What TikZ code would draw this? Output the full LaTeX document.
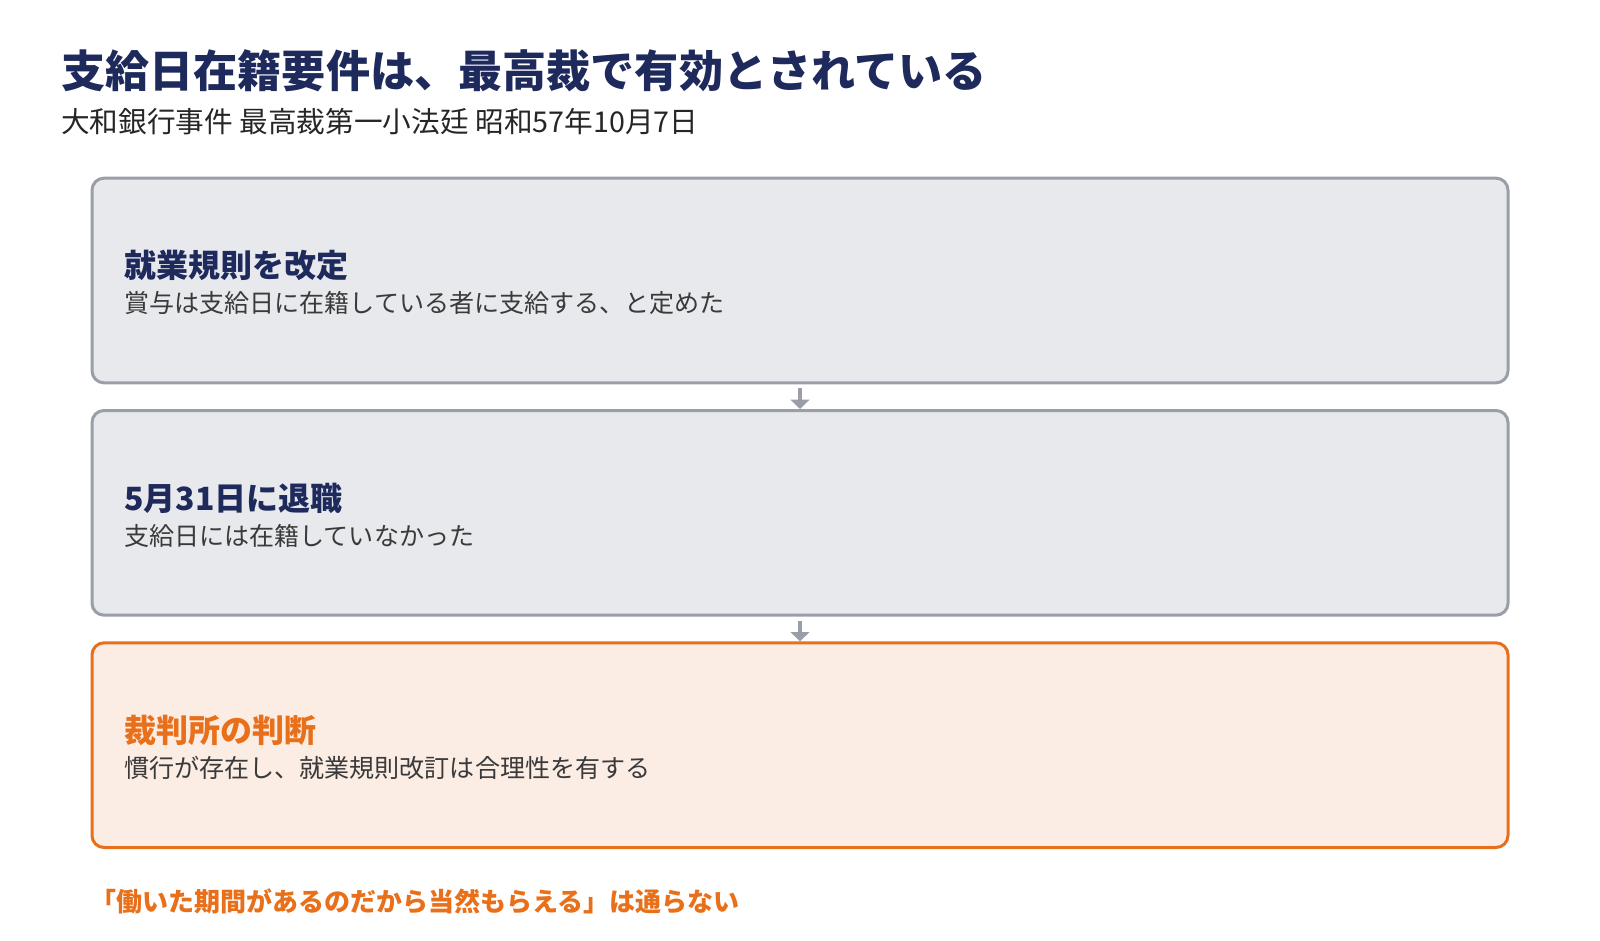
\documentclass[tikz,border=0pt]{standalone}
\usepackage{fontspec}
\setmainfont{Noto Sans CJK JP}
\usetikzlibrary{positioning,arrows.meta}
\definecolor{navy}{HTML}{1F2A5C}
\definecolor{boxgray}{HTML}{E8E9ED}
\definecolor{linegray}{HTML}{9A9EA9}
\definecolor{judgeorange}{HTML}{E8701A}
\definecolor{judgefill}{HTML}{FBECE4}
\definecolor{bodytext}{HTML}{3A3A3A}
\tikzset{
  stepbox/.style={draw=linegray, fill=boxgray, line width=2.25pt,
    rounded corners=9pt, minimum width=1062pt, minimum height=153.5pt},
  judgebox/.style={stepbox, draw=judgeorange, fill=judgefill},
  headtxt/.style={anchor=west, inner sep=0pt, text=navy,
    font=\fontsize{24pt}{28pt}\selectfont\bfseries},
  bodytxt/.style={anchor=west, inner sep=0pt, text=bodytext,
    font=\fontsize{18.8pt}{22pt}\selectfont},
  flow/.style={draw=linegray, line width=3pt,
    -{Triangle[width=14pt, length=7pt]}, shorten <=3pt}
}

\begin{document}
\begin{tikzpicture}[x=0.75pt,y=-0.75pt]
\useasboundingbox (0,0) rectangle (1600,940);

% Title and source
\node[anchor=west, inner sep=0pt, text=navy,
      font=\fontsize{33.1pt}{38pt}\selectfont\bfseries] (title) at (61,70.5)
      {支給日在籍要件は、最高裁で有効とされている};
\node[anchor=west, inner sep=0pt, text=black!85,
      font=\fontsize{21.5pt}{25pt}\selectfont] (source) at (61,121.5)
      {大和銀行事件 最高裁第一小法廷 昭和57年10月7日};

% The three steps
\node[stepbox]  (rule)   at (800,280.5) {};
\node[stepbox, below=18.5pt of rule]  (retire) {};
\node[judgebox, below=18.5pt of retire] (judge) {};

\node[headtxt] (ruleH) at ([xshift=25pt, yshift=11pt]rule.west) {就業規則を改定};
\node[bodytxt] (ruleB) at ([xshift=25pt, yshift=-17pt]rule.west)
      {賞与は支給日に在籍している者に支給する、と定めた};

\node[headtxt] (retireH) at ([xshift=25pt, yshift=11pt]retire.west) {5月31日に退職};
\node[bodytxt] (retireB) at ([xshift=25pt, yshift=-17pt]retire.west)
      {支給日には在籍していなかった};

\node[headtxt, text=judgeorange] (judgeH) at ([xshift=25pt, yshift=11pt]judge.west) {裁判所の判断};
\node[bodytxt] (judgeB) at ([xshift=25pt, yshift=-17pt]judge.west)
      {慣行が存在し、就業規則改訂は合理性を有する};

% Arrows between the steps
\draw[flow] (rule.south) -- (retire.north);
\draw[flow] (retire.south) -- (judge.north);

% Closing remark
\node[anchor=west, inner sep=0pt, text=judgeorange,
      font=\fontsize{19.5pt}{23pt}\selectfont\bfseries] (remark) at (90,901)
      {「働いた期間があるのだから当然もらえる」は通らない};

\end{tikzpicture}
\end{document}
